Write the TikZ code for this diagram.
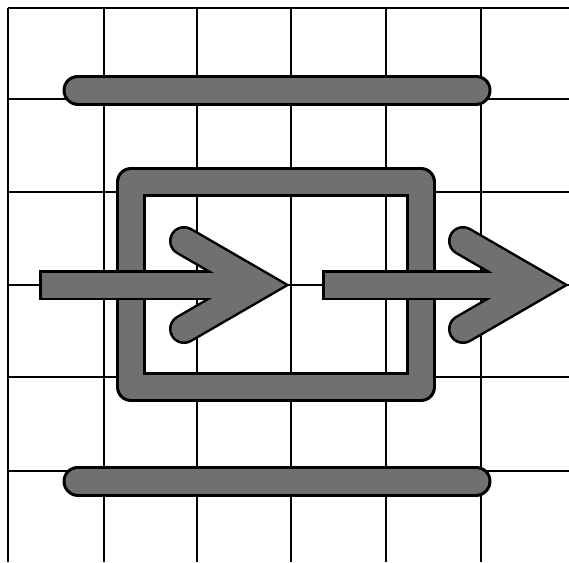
\documentclass[tikz,border=0pt]{standalone}
\usepackage{tikz}
\usetikzlibrary{calc}
\definecolor{halftone}{RGB}{112,112,112}
\tikzset{
    gridline/.style={draw=black, line width=1.6pt},
    rimstroke/.style={draw=black, line width=#1},
    tonestroke/.style={draw=halftone, line width=#1},
    thickbar/.style={line cap=round},
    chevron/.style={line cap=round, line join=miter, miter limit=10}
}

\begin{document}
\begin{tikzpicture}[x=1pt, y=-1pt]
\useasboundingbox (0,0) rectangle (569,562);

% grid
\foreach \gx in {8,104,197,291,386,481}
    \draw[gridline] (\gx,8) -- (\gx,562);
\foreach \gy in {8,99,192,285,377,471}
    \draw[gridline] (8,\gy) -- (569,\gy);

% bars above and below
\coordinate (topL) at (78,90);
\coordinate (topR) at (476,90);
\coordinate (botL) at (78,481);
\coordinate (botR) at (476,481);
\foreach \a/\b in {topL/topR, botL/botR} {
    \draw[rimstroke=31pt, thickbar] (\a) -- (\b);
    \draw[tonestroke=25pt, thickbar] (\a) -- (\b);
}

% frame
\coordinate (frameNW) at (131,182);
\coordinate (frameSE) at (421,387);
\draw[rimstroke=30pt, line join=round] (frameNW) rectangle (frameSE);
\draw[tonestroke=24pt, line join=round] (frameNW) rectangle (frameSE);

% arrows
\foreach \dx/\tx in {0/39, 279/43} {
    \begin{scope}[xshift=\dx]
        \coordinate (tail) at (\tx,285);
        \coordinate (tip) at (260,285);
        \coordinate (armU) at (184,241);
        \coordinate (armD) at (184,329);
        \draw[rimstroke=30pt] (tail) -- (tip);
        \draw[rimstroke=30pt, chevron] (armU) -- (tip) -- (armD);
        \draw[tonestroke=25pt] ($(tail)+(2.5,0)$) -- (tip);
        \draw[tonestroke=25pt, chevron] (armU) -- (tip) -- (armD);
    \end{scope}
}

\end{tikzpicture}
\end{document}
